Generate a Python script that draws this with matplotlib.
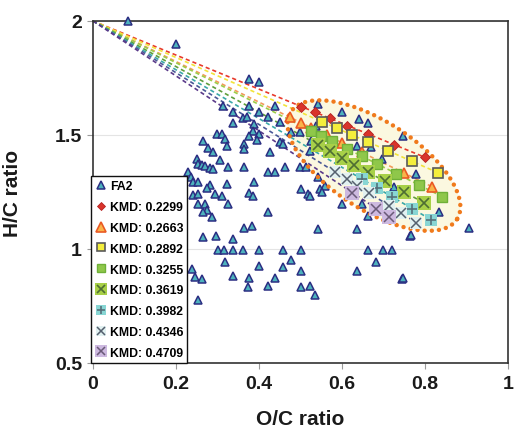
import matplotlib
matplotlib.use("Agg")
import matplotlib.pyplot as plt
import numpy as np
from matplotlib.lines import Line2D

plt.rcParams["font.family"] = ["Liberation Sans", "DejaVu Sans"]
plt.rcParams["font.weight"] = "bold"

# FA2 formulas, O/C vs H/C
fa2_oc = [0.084, 0.200, 0.377, 0.401, 0.313, 0.337, 0.377, 0.401, 0.361, 0.370,
          0.337, 0.389, 0.421, 0.438, 0.450, 0.385, 0.377, 0.401, 0.394, 0.365,
          0.365, 0.298, 0.310, 0.317, 0.322, 0.264, 0.276, 0.288, 0.305, 0.250,
          0.252, 0.262, 0.269, 0.281, 0.288, 0.325, 0.365, 0.426, 0.450, 0.421,
          0.438, 0.462, 0.498, 0.389, 0.228, 0.236, 0.240, 0.252, 0.281, 0.274,
          0.322, 0.240, 0.252, 0.293, 0.310, 0.375, 0.385, 0.252, 0.269, 0.274,
          0.264, 0.325, 0.286, 0.421, 0.365, 0.382, 0.264, 0.296, 0.337, 0.300,
          0.315, 0.337, 0.361, 0.399, 0.457, 0.500, 0.317, 0.399, 0.478, 0.459,
          0.238, 0.245, 0.262, 0.337, 0.375, 0.373, 0.421, 0.438, 0.500, 0.524,
          0.534, 0.252, 0.745, 0.500, 0.517, 0.522, 0.546, 0.558, 0.553, 0.601,
          0.647, 0.663, 0.543, 0.635, 0.764, 0.663, 0.700, 0.721, 0.683, 0.502,
          0.635, 0.748, 0.543, 0.601, 0.642, 0.663, 0.538, 0.748, 0.635, 0.671,
          0.697, 0.522, 0.514, 0.541, 0.478, 0.498, 0.457, 0.526, 0.779, 0.726,
          0.834, 0.906, 0.767]
fa2_hc = [2.000, 1.899, 1.746, 1.732, 1.627, 1.601, 1.627, 1.601, 1.575, 1.579,
          1.553, 1.548, 1.579, 1.627, 1.557, 1.518, 1.496, 1.504, 1.478, 1.461,
          1.439, 1.504, 1.504, 1.482, 1.452, 1.474, 1.443, 1.425, 1.390, 1.395,
          1.373, 1.368, 1.364, 1.355, 1.351, 1.360, 1.360, 1.425, 1.469, 1.338,
          1.338, 1.360, 1.360, 1.294, 1.338, 1.316, 1.294, 1.294, 1.281, 1.268,
          1.285, 1.237, 1.241, 1.241, 1.232, 1.246, 1.232, 1.197, 1.197, 1.171,
          1.162, 1.197, 1.140, 1.162, 1.092, 1.101, 1.053, 1.057, 1.044, 0.996,
          0.996, 0.996, 0.996, 0.996, 0.996, 0.996, 0.943, 0.925, 0.952, 0.921,
          0.912, 0.877, 0.868, 0.882, 0.873, 0.833, 0.838, 0.873, 0.833, 0.838,
          0.798, 0.776, 0.868, 1.263, 1.241, 1.232, 1.263, 1.276, 1.250, 1.197,
          1.197, 1.145, 1.088, 1.088, 1.057, 0.996, 0.996, 0.996, 0.943, 0.904,
          0.904, 0.873, 1.636, 1.601, 1.570, 1.553, 1.539, 1.496, 1.452, 1.447,
          1.395, 1.430, 1.360, 1.316, 1.513, 1.513, 1.461, 1.474, 1.329, 1.272,
          1.162, 1.092, 1.061]

# KMD homologous series
kmd_2299_oc = [0.502, 0.534, 0.570, 0.613, 0.663, 0.726, 0.800]
kmd_2299_hc = [1.624, 1.601, 1.574, 1.541, 1.504, 1.457, 1.402]
kmd_2663_oc = [0.474, 0.502, 0.526, 0.563, 0.601, 0.647, 0.750, 0.817]
kmd_2663_hc = [1.578, 1.553, 1.532, 1.499, 1.465, 1.424, 1.333, 1.273]
kmd_2892_oc = [0.553, 0.587, 0.625, 0.663, 0.712, 0.769, 0.832]
kmd_2892_hc = [1.558, 1.530, 1.500, 1.470, 1.430, 1.385, 1.334]
kmd_3255_oc = [0.526, 0.550, 0.577, 0.613, 0.647, 0.685, 0.731, 0.786, 0.841]
kmd_3255_hc = [1.519, 1.497, 1.472, 1.439, 1.408, 1.373, 1.331, 1.281, 1.230]
kmd_3619_oc = [0.543, 0.572, 0.601, 0.630, 0.663, 0.704, 0.750, 0.798]
kmd_3619_hc = [1.457, 1.428, 1.399, 1.370, 1.337, 1.296, 1.250, 1.202]
kmd_3982_oc = [0.649, 0.685, 0.721, 0.769, 0.815]
kmd_3982_hc = [1.306, 1.267, 1.229, 1.177, 1.128]
kmd_4346_oc = [0.582, 0.611, 0.637, 0.666, 0.714, 0.743, 0.779]
kmd_4346_hc = [1.339, 1.307, 1.277, 1.244, 1.190, 1.157, 1.116]
kmd_4709_oc = [0.625, 0.683, 0.714]
kmd_4709_hc = [1.247, 1.177, 1.140]

x_ticks = [0, 0.2, 0.4, 0.6, 0.8, 1]
x_tick_labels = ["0", "0.2", "0.4", "0.6", "0.8", "1"]
y_ticks = [0.5, 1, 1.5, 2]
y_tick_labels = ["0.5", "1", "1.5", "2"]

# marker layers per series: list of (marker, size, face, edge, edgewidth)
SERIES = [
    ("0.2299", kmd_2299_oc, kmd_2299_hc, "#e8392b",
     [("D", 5.2, "#d9342b", "#b52020", 0.6)]),
    ("0.2663", kmd_2663_oc, kmd_2663_hc, "#f39a5a",
     [("^", 7.8, "#f9b44a", "#ea5a24", 1.2)]),
    ("0.2892", kmd_2892_oc, kmd_2892_hc, "#f2e33a",
     [("s", 6.8, "#f4ee3c", "#5a5a5a", 1.2)]),
    ("0.3255", kmd_3255_oc, kmd_3255_hc, "#9ccc48",
     [("s", 7.2, "#8fc74a", "#6fb038", 1.0)]),
    ("0.3619", kmd_3619_oc, kmd_3619_hc, "#5f9e3c",
     [("s", 9.5, "#a8d048", "none", 0), ("x", 7, "#4e6e33", "#4e6e33", 1.2)]),
    ("0.3982", kmd_3982_oc, kmd_3982_hc, "#3aa8a8",
     [("s", 9, "#88d6d4", "none", 0), ("+", 7, "#56707a", "#56707a", 1.2)]),
    ("0.4346", kmd_4346_oc, kmd_4346_hc, "#4a5896",
     [("s", 8, "#e2f1f1", "none", 0), ("x", 6.5, "#55606e", "#55606e", 1.1)]),
    ("0.4709", kmd_4709_oc, kmd_4709_hc, "#5b3a8a",
     [("s", 10, "#cdb9e0", "none", 0), ("x", 7, "#6a5a78", "#6a5a78", 1.1)]),
]

fig = plt.figure(figsize=(5.15, 4.31), dpi=100)
ax = fig.add_axes([0.1806, 0.1555, 0.8058, 0.7935])

ax.set_xlim(0, 1)
ax.set_ylim(0.5, 2)
ax.grid(axis="y", color="#e4e4e4", lw=0.8, zorder=0)
ax.set_axisbelow(True)

# highlighted region around the homologous series
t = np.linspace(0, 2 * np.pi, 400)
ex = 0.677 + 0.200 * np.cos(t) - 0.058 * np.sin(t)
ey = 1.366 - 0.236 * np.cos(t) - 0.162 * np.sin(t)
ax.fill(ex, ey, color="#fbf8e0", lw=0, zorder=1)

# dashed lines from the (0, 2) origin through each series
for label, oc, hc, line_color, layers in SERIES:
    ax.plot([0, oc[-1]], [2, hc[-1]], color=line_color, lw=1.2,
            ls=(0, (2.5, 1.8)), zorder=2)

ax.plot(fa2_oc, fa2_hc, ls="none", marker="^", ms=6.4, mfc="#4db3bd",
        mec="#2b2e82", mew=1.1, zorder=3, clip_on=False)

ax.plot(ex, ey, color="#f07a1c", lw=3.2, ls=(0, (0.01, 1.6)),
        dash_capstyle="round", zorder=3.5)

for i, (label, oc, hc, line_color, layers) in enumerate(SERIES):
    for marker, size, face, edge, ew in layers:
        ax.plot(oc, hc, ls="none", marker=marker, ms=size, mfc=face,
                mec=edge, mew=ew, zorder=4 + i * 0.1)

# legend proxies
handles = [Line2D([], [], ls="none", marker="^", ms=6, mfc="#4db3bd",
                  mec="#2b2e82", mew=1.1)]
labels = ["FA2"]
for label, oc, hc, line_color, layers in SERIES:
    parts = []
    for marker, size, face, edge, ew in layers:
        parts.append(Line2D([], [], ls="none", marker=marker, ms=size * 0.85,
                            mfc=face, mec=edge, mew=ew))
    handles.append(tuple(parts))
    labels.append("KMD: " + label)

leg = ax.legend(handles, labels, loc="lower left", bbox_to_anchor=(-0.004, 0),
                borderaxespad=0, frameon=True, fancybox=False,
                edgecolor="#111111", framealpha=1, fontsize=8.8,
                labelspacing=0.72, borderpad=0.35, handlelength=0.8,
                handletextpad=0.35)
leg.get_frame().set_linewidth(1.0)
leg.set_zorder(10)

ax.set_xticks(x_ticks)
ax.set_xticklabels(x_tick_labels)
ax.set_yticks(y_ticks)
ax.set_yticklabels(y_tick_labels)
ax.tick_params(direction="out", length=4, width=0.8, color="#9a9a9a",
               labelsize=14, labelcolor="#1a1a1a")
ax.tick_params(axis="x", pad=5)
ax.tick_params(axis="y", pad=4)

for side in ["left", "right", "top", "bottom"]:
    ax.spines[side].set_color("#333333")
    ax.spines[side].set_linewidth(1.2)

ax.set_xlabel("O/C ratio", fontsize=15, fontweight="bold", color="#1a1a1a")
ax.set_ylabel("H/C ratio", fontsize=15, fontweight="bold", color="#1a1a1a")
ax.xaxis.set_label_coords(0.5, -0.135)
ax.yaxis.set_label_coords(-0.171, 0.5)

fig.savefig("out.png", dpi=100)
